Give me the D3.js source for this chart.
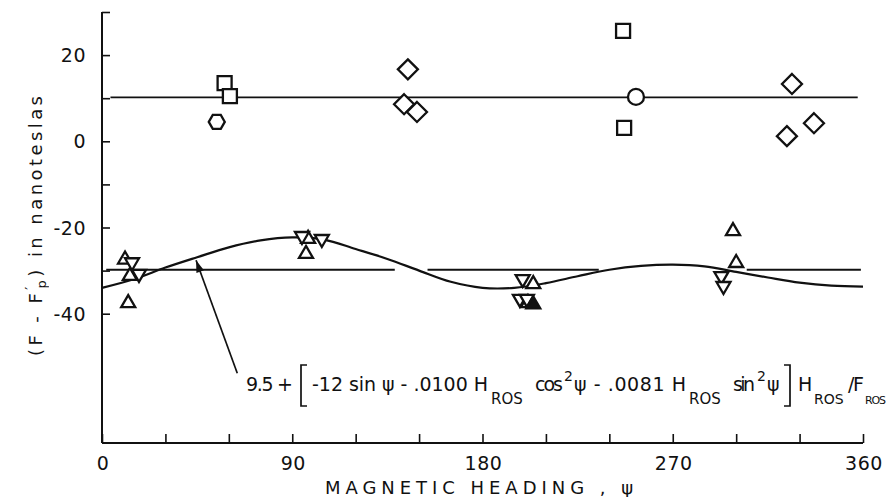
<!DOCTYPE html>
<html>
<head>
<meta charset="utf-8">
<script src="https://cdn.jsdelivr.net/npm/d3@7"></script>
<style>
  html, body { margin: 0; padding: 0; background: #fff; }
  svg { display: block; }
  text { font-family: 'DejaVu Sans', 'Liberation Sans', sans-serif; fill: #111; }
</style>
</head>
<body>
<svg id="chart" width="887" height="497"></svg>
<script>
// values (heading in degrees, F - F'p in nT)
const xMajorTicks = [0, 90, 180, 270, 360];
const xMinorTicks = [30, 60, 120, 150, 210, 240, 300, 330];
const yLabelTicks = [20, 0, -20, -40];
const yMinorTicks = [30, 10, -10, -30];

const squares = [[58, 13.5], [60.5, 10.5], [246.5, 25.6], [247, 3.1]];
const hexagons = [[54.3, 4.5]];
const circles = [[252.6, 10.3]];
const diamonds = [[144.7, 16.7], [142.9, 8.6], [149, 6.8], [326.4, 13.3], [336.8, 4.2], [324, 1.2]];
const upTriangles = [
  [10.9, -27.2], [13.2, -31], [12.4, -37.3],
  [97.5, -22.4], [96.5, -25.9],
  [204, -32.9], [201.5, -37.3],
  [298.5, -20.6], [300, -28]
];
const filledTriangles = [[204, -37.6]];
const downTriangles = [
  [14.2, -28.3], [17.5, -31],
  [94.6, -22.2], [104, -22.9],
  [199, -32.2], [197.7, -36.8], [201, -36.8],
  [293, -31.5], [294, -33.8]
];

const curveHeading = [0, 15, 30, 45, 60, 75, 90, 105, 120, 135, 150, 165, 180, 195, 210, 225, 240, 255, 270, 285, 300, 315, 330, 345, 360];
const curveValue = [-34, -32, -29.3, -26.9, -24.6, -23, -22.3, -22.8, -25, -27.3, -30, -32.6, -34, -34, -32.9, -31.3, -29.8, -28.9, -28.6, -29, -30.3, -31.6, -32.8, -33.5, -33.7];

const upperLevel = 10.2;
const upperSpan = [[4, 357.5]];
const lowerLevel = -29.8;
const lowerSpan = [[2, 138.5], [154, 235], [305, 359]];

const arrowFrom = [64, -53.8];
const arrowTo = [44.5, -27.6];

const svg = d3.select('#chart');
const ink = '#111';

const x = d3.scaleLinear().domain([0, 360]).range([102, 863]);
const y = d3.scaleLinear().domain([-70, 30]).range([443, 12]);

// axes
svg.append('line')
  .attr('x1', x(0)).attr('x2', x(0))
  .attr('y1', y(30)).attr('y2', y(-70))
  .attr('stroke', ink).attr('stroke-width', 2);
svg.append('line')
  .attr('x1', x(0)).attr('x2', x(360))
  .attr('y1', y(-70)).attr('y2', y(-70))
  .attr('stroke', ink).attr('stroke-width', 2);

const yAxis = d3.axisRight(y)
  .tickValues(yLabelTicks.concat(yMinorTicks))
  .tickSize(8)
  .tickFormat('');
svg.append('g')
  .attr('transform', `translate(${x(0)},0)`)
  .call(yAxis)
  .call((g) => g.select('.domain').remove())
  .call((g) => g.selectAll('line').attr('stroke', ink).attr('stroke-width', 1.6));

svg.append('g')
  .selectAll('text')
  .data(yLabelTicks)
  .join('text')
  .attr('x', x(0) - 16)
  .attr('y', (d) => y(d) + 7)
  .attr('text-anchor', 'end')
  .attr('font-size', 19)
  .attr('letter-spacing', 0.5)
  .text((d) => (d < 0 ? '-' + Math.abs(d) : d));

const xAxis = d3.axisTop(x)
  .tickValues(xMajorTicks.concat(xMinorTicks))
  .tickSize(9)
  .tickFormat('');
svg.append('g')
  .attr('transform', `translate(0,${y(-70)})`)
  .call(xAxis)
  .call((g) => g.select('.domain').remove())
  .call((g) => g.selectAll('line').attr('stroke', ink).attr('stroke-width', 1.6));

svg.append('g')
  .selectAll('text')
  .data(xMajorTicks)
  .join('text')
  .attr('x', (d) => x(d) + 1)
  .attr('y', 470)
  .attr('text-anchor', 'middle')
  .attr('font-size', 19)
  .attr('letter-spacing', 0.5)
  .text((d) => d);

svg.append('text')
  .attr('x', 325)
  .attr('y', 494)
  .attr('font-size', 18)
  .attr('textLength', 308)
  .attr('lengthAdjust', 'spacing')
  .text('MAGNETIC HEADING , ψ');

// y title, rotated
const yt = svg.append('text')
  .attr('transform', 'translate(42,356) rotate(-90)')
  .attr('font-size', 18)
  .attr('opacity', 0.99)
  .attr('textLength', 260)
  .attr('lengthAdjust', 'spacing');
yt.append('tspan').text('(F - F');
yt.append('tspan').attr('font-size', 13).attr('dy', -8).text('\u2032');
yt.append('tspan').attr('font-size', 13).attr('dx', -5).attr('dy', 12).text('p');
yt.append('tspan').attr('dy', -4).text(') in nanoteslas');

// reference levels
const levels = [
  ...upperSpan.map((s) => ({ s, v: upperLevel })),
  ...lowerSpan.map((s) => ({ s, v: lowerLevel }))
];
svg.append('g')
  .selectAll('line')
  .data(levels)
  .join('line')
  .attr('x1', (d) => x(d.s[0]))
  .attr('x2', (d) => x(d.s[1]))
  .attr('y1', (d) => y(d.v))
  .attr('y2', (d) => y(d.v))
  .attr('stroke', ink)
  .attr('stroke-width', 1.8);

// fitted curve
const line = d3.line()
  .x((d, i) => x(curveHeading[i]))
  .y((d) => y(d))
  .curve(d3.curveCatmullRom);
svg.append('path')
  .attr('d', line(curveValue))
  .attr('fill', 'none')
  .attr('stroke', ink)
  .attr('stroke-width', 2.2);

// arrow to curve
svg.append('defs').append('marker')
  .attr('id', 'head')
  .attr('viewBox', '0 0 12 8')
  .attr('refX', 12).attr('refY', 4)
  .attr('markerWidth', 13).attr('markerHeight', 8)
  .attr('markerUnits', 'userSpaceOnUse')
  .attr('orient', 'auto')
  .append('path')
  .attr('d', 'M0,0 L12,4 L0,8 Z')
  .attr('fill', ink);
svg.append('line')
  .attr('x1', x(arrowFrom[0])).attr('y1', y(arrowFrom[1]))
  .attr('x2', x(arrowTo[0])).attr('y2', y(arrowTo[1]))
  .attr('stroke', ink).attr('stroke-width', 1.7)
  .attr('marker-end', 'url(#head)');

// markers
const marks = svg.append('g').attr('stroke', ink).attr('stroke-width', 2.3);
const shapes = [
  { data: squares, d: 'M-7,-7H7V7H-7Z' },
  { data: hexagons, d: 'M-8,0L-4,-7H4L8,0L4,7H-4Z' },
  { data: circles, d: d3.symbol(d3.symbolCircle, 200)() },
  { data: diamonds, d: 'M0,-10L10,0L0,10L-10,0Z' },
  { data: upTriangles, d: 'M0,-7L7,5H-7Z' },
  { data: downTriangles, d: 'M0,7L7,-5H-7Z' },
  { data: filledTriangles, d: 'M0,-7L7,5H-7Z', fill: ink }
];
shapes.forEach((s) => {
  marks.append('g')
    .selectAll('path')
    .data(s.data)
    .join('path')
    .attr('d', s.d)
    .attr('fill', s.fill || '#fff')
    .attr('transform', (p) => `translate(${x(p[0])},${y(p[1])})`);
});

// formula annotation
const fy = 391;
const f = svg.append('g');
function put(tx, ty, str, size, len) {
  const t = f.append('text').attr('x', tx).attr('y', ty).attr('font-size', size).text(str);
  if (len) t.attr('textLength', len).attr('lengthAdjust', 'spacing');
}
put(246, fy, '9.5 +', 19, 47);
put(312, fy, '-12 sin ψ  - .0100 H', 19, 176);
put(491, fy + 13, 'ROS', 15);
put(535, fy, 'cos', 19, 28);
put(564, fy - 10, '2', 14);
put(574, fy, 'ψ  - .0081 H', 19, 112);
put(689, fy + 13, 'ROS', 15);
put(733, fy, 'sin', 19, 22);
put(757, fy - 10, '2', 14);
put(767, fy, 'ψ', 19);
put(798, fy, 'H', 19);
put(814, fy + 13, 'ROS', 14);
put(848, fy, '/F', 19, 16);
put(865, fy + 13, 'ROS', 11, 21);
// square brackets
const br = [[301, 1], [790, -1]];
svg.append('g')
  .selectAll('path')
  .data(br)
  .join('path')
  .attr('d', (b) => `M${b[0] + 6 * b[1]},365 H${b[0]} V406 H${b[0] + 6 * b[1]}`)
  .attr('fill', 'none')
  .attr('stroke', ink)
  .attr('stroke-width', 1.7);
</script>
</body>
</html>
